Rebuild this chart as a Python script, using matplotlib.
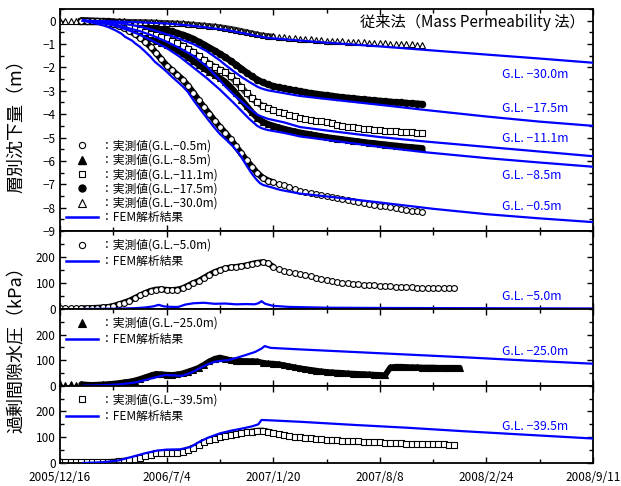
import numpy as np
import matplotlib
matplotlib.use('Agg')
import matplotlib.pyplot as plt
from matplotlib.lines import Line2D
from matplotlib.ticker import MultipleLocator

plt.rcParams['font.family'] = ['Noto Sans CJK JP', 'DejaVu Sans']
plt.rcParams['axes.unicode_minus'] = True

# ---------------- data ----------------
x_ticks = [0, 200, 400, 600, 800, 1000]
x_labels = ['2005/12/16', '2006/7/4', '2007/1/20', '2007/8/8', '2008/2/24', '2008/9/11']

days_s = list(range(40, 690, 10))     # settlement measured (days from 2005/12/16)
days_s30 = list(range(0, 690, 10))

s05 = [0, -0.01, -0.02, -0.03, -0.05, -0.09, -0.15, -0.22, -0.31, -0.43,
       -0.56, -0.72, -0.90, -1.12, -1.38, -1.65, -1.92, -2.12, -2.32, -2.52,
       -2.78, -3.08, -3.40, -3.70, -3.98, -4.28, -4.55, -4.80, -5.08, -5.38,
       -5.68, -5.98, -6.25, -6.52, -6.72, -6.84, -6.92, -6.98, -7.04, -7.12,
       -7.20, -7.27, -7.33, -7.38, -7.43, -7.47, -7.51, -7.55, -7.59, -7.63,
       -7.67, -7.71, -7.75, -7.79, -7.83, -7.87, -7.91, -7.95, -7.99, -8.03,
       -8.06, -8.10, -8.13, -8.16, -8.19]
s85 = [0, -0.01, -0.02, -0.03, -0.05, -0.07, -0.10, -0.15, -0.22, -0.30,
       -0.39, -0.50, -0.62, -0.74, -0.86, -0.95, -1.03, -1.12, -1.25, -1.40,
       -1.56, -1.72, -1.88, -2.04, -2.18, -2.32, -2.46, -2.62, -2.84, -3.10,
       -3.38, -3.65, -3.92, -4.15, -4.32, -4.43, -4.50, -4.57, -4.63, -4.69,
       -4.74, -4.79, -4.83, -4.87, -4.91, -4.95, -4.99, -5.02, -5.05, -5.08,
       -5.11, -5.14, -5.17, -5.20, -5.23, -5.25, -5.28, -5.30, -5.33, -5.35,
       -5.38, -5.40, -5.42, -5.44, -5.46]
s111 = [0, -0.01, -0.01, -0.02, -0.03, -0.05, -0.08, -0.13, -0.19, -0.26,
        -0.33, -0.41, -0.48, -0.55, -0.62, -0.69, -0.76, -0.85, -0.95, -1.07,
        -1.20, -1.35, -1.52, -1.68, -1.84, -1.98, -2.10, -2.20, -2.38, -2.60,
        -2.85, -3.10, -3.32, -3.50, -3.65, -3.74, -3.83, -3.90, -3.97, -4.04,
        -4.10, -4.15, -4.20, -4.24, -4.28, -4.30, -4.32, -4.38, -4.45, -4.50,
        -4.54, -4.57, -4.60, -4.62, -4.64, -4.66, -4.68, -4.70, -4.72, -4.74,
        -4.75, -4.77, -4.78, -4.80, -4.81]
s175 = [0, 0, -0.01, -0.01, -0.02, -0.03, -0.05, -0.07, -0.10, -0.13,
        -0.16, -0.20, -0.24, -0.28, -0.32, -0.36, -0.40, -0.46, -0.53, -0.60,
        -0.68, -0.78, -0.90, -1.02, -1.15, -1.28, -1.42, -1.56, -1.72, -1.88,
        -2.05, -2.22, -2.38, -2.52, -2.64, -2.73, -2.80, -2.85, -2.90, -2.94,
        -2.98, -3.02, -3.06, -3.10, -3.13, -3.16, -3.19, -3.22, -3.25, -3.28,
        -3.30, -3.32, -3.35, -3.37, -3.39, -3.41, -3.43, -3.45, -3.47, -3.49,
        -3.50, -3.52, -3.54, -3.55, -3.57]
s300 = [0, 0, 0, 0, 0, 0, -0.01, -0.01, -0.01, -0.02,
        -0.02, -0.03, -0.03, -0.04, -0.04, -0.05, -0.05, -0.06, -0.07, -0.08,
        -0.09, -0.10, -0.11, -0.12, -0.14, -0.16, -0.18, -0.20, -0.22, -0.24,
        -0.27, -0.30, -0.34, -0.38, -0.43, -0.48, -0.53, -0.58, -0.62, -0.65,
        -0.67, -0.69, -0.71, -0.73, -0.75, -0.77, -0.79, -0.80, -0.82, -0.83,
        -0.85, -0.86, -0.87, -0.88, -0.90, -0.91, -0.92, -0.93, -0.94, -0.95,
        -0.96, -0.97, -0.98, -0.99, -1.00, -1.00, -1.01, -1.02, -1.03]

# FEM settlement
f05_d = [43, 60, 78, 90, 103, 115, 122, 135, 141, 150, 160, 170, 178, 191, 200, 210, 220, 231,
         240, 250, 260, 275, 288, 300, 312, 325, 338, 350, 360, 369, 375, 381, 395, 413, 450,
         500, 600, 700, 800, 900, 1000]
f05_v = [0, -0.08, -0.18, -0.27, -0.40, -0.55, -0.69, -0.85, -0.97, -1.12, -1.33, -1.55, -1.76,
         -2.00, -2.18, -2.40, -2.60, -2.83, -3.05, -3.39, -3.70, -4.15, -4.53, -4.85, -5.10,
         -5.39, -5.75, -6.20, -6.55, -6.81, -6.95, -7.03, -7.12, -7.24, -7.40, -7.52, -7.78,
         -8.05, -8.28, -8.46, -8.62]
f85_d = [43, 70, 100, 125, 150, 175, 200, 225, 250, 275, 300, 310, 325, 340, 355, 370, 378, 390,
         420, 450, 500, 600, 685, 800, 900, 1000]
f85_v = [0, -0.05, -0.20, -0.38, -0.60, -0.88, -1.17, -1.55, -2.00, -2.45, -2.95, -3.17, -3.50,
         -3.85, -4.20, -4.50, -4.60, -4.68, -4.80, -4.95, -5.10, -5.40, -5.63, -5.88, -6.07, -6.25]
f111_d = [43, 70, 100, 125, 150, 175, 200, 225, 250, 275, 300, 310, 325, 340, 355, 370, 378, 390,
          420, 450, 500, 600, 685, 800, 900, 1000]
f111_v = [0, -0.04, -0.15, -0.30, -0.45, -0.65, -0.90, -1.18, -1.50, -1.95, -2.55, -2.81, -3.15,
          -3.45, -3.75, -4.02, -4.10, -4.20, -4.35, -4.55, -4.70, -4.98, -5.17, -5.40, -5.60, -5.80]
f175_d = [43, 70, 100, 125, 150, 175, 200, 225, 250, 275, 300, 310, 325, 340, 355, 370, 378, 390,
          420, 450, 500, 600, 685, 800, 900, 1000]
f175_v = [0, -0.03, -0.08, -0.15, -0.25, -0.40, -0.58, -0.78, -1.00, -1.30, -1.70, -1.89, -2.15,
          -2.40, -2.62, -2.82, -2.90, -2.98, -3.10, -3.22, -3.35, -3.60, -3.82, -4.10, -4.32, -4.50]
f300_d = [43, 100, 150, 200, 250, 310, 350, 380, 391, 450, 500, 600, 685, 800, 900, 1000]
f300_v = [0, -0.03, -0.07, -0.12, -0.22, -0.39, -0.56, -0.70, -0.74, -0.85, -0.94, -1.10, -1.25,
          -1.45, -1.62, -1.80]

# excess pore pressure (kPa)
days_p50 = list(range(0, 750, 10))
p50 = [2, 2, 2, 2, 3, 3, 4, 5, 6, 8,
       12, 18, 25, 32, 42, 52, 62, 70, 75, 76,
       74, 73, 75, 80, 90, 100, 108, 120, 132, 142,
       150, 156, 160, 162, 165, 168, 174, 178, 180, 176,
       163, 153, 147, 142, 138, 134, 130, 126, 121, 116,
       111, 107, 104, 101, 99, 97, 95, 93, 92, 91,
       90, 89, 87, 86, 85, 84, 83, 82, 82, 81,
       81, 80, 80, 80, 80]
fp50_d = [43, 100, 140, 160, 175, 185, 195, 210, 222, 235, 250, 270, 290, 310, 330, 350, 365, 372,
          378, 385, 400, 430, 500, 600, 800, 1000]
fp50_v = [0, 1, 3, 6, 10, 16, 10, 8, 8, 17, 22, 24, 20, 21, 18, 19, 18, 22, 30, 20, 12, 8, 5, 4, 3, 2]

days_p250 = list(range(0, 760, 10))
p250 = [5, 2, 8, 3, 6, 4, 3, 4, 5, 6,
        8, 10, 13, 16, 20, 26, 33, 40, 46, 45,
        43, 42, 44, 48, 55, 62, 70, 82, 95, 105,
        110, 105, 100, 98, 97, 96, 96, 95, 90, 87,
        86, 84, 80, 76, 72, 68, 65, 62, 59, 56,
        54, 52, 51, 50, 48, 47, 46, 45, 44, 43,
        42, 41, 72, 74, 74, 73, 72, 72, 71, 71,
        71, 70, 70, 70, 70, 70]
fp250_d = [43, 80, 110, 140, 160, 180, 197, 215, 228, 245, 260, 275, 291, 305, 316, 330, 347, 366,
           378, 384, 395, 450, 550, 650, 760, 880, 1000]
fp250_v = [0, 2, 5, 12, 22, 33, 42, 40, 38, 50, 66, 82, 94, 98, 100, 108, 119, 132, 145, 155, 148,
           142, 132, 122, 111, 98, 86]

days_p395 = list(range(0, 750, 10))
p395 = [3, 3, 3, 3, 2, 2, 2, 3, 3, 4,
        5, 7, 9, 11, 15, 20, 26, 32, 38, 40,
        40, 39, 40, 44, 52, 60, 70, 80, 88, 95,
        102, 106, 110, 113, 116, 119, 122, 125, 126, 122,
        117, 111, 108, 105, 102, 99, 97, 96, 94, 92,
        90, 89, 88, 87, 86, 85, 84, 83, 82, 81,
        80, 79, 78, 77, 76, 75, 74, 74, 73, 73,
        72, 72, 72, 71, 71]
fp395_d = [43, 80, 110, 137, 160, 182, 200, 225, 245, 263, 280, 300, 320, 340, 360, 372, 378, 390,
           450, 550, 650, 760, 880, 1000]
fp395_v = [0, 3, 10, 25, 38, 48, 52, 53, 62, 84, 100, 115, 125, 133, 142, 150, 167, 166, 160, 148,
           137, 123, 109, 95]

# ---------------- drawing ----------------
BLUE = '#0000FF'
fig = plt.figure(figsize=(6.21, 4.86), dpi=100)
W, H = 621.0, 486.0
L, R = 60 / W, 593 / W
bounds = [(9, 231), (231, 309), (309, 385.7), (385.7, 463)]
axes = []
for top, bot in bounds:
    ax = fig.add_axes([L, 1 - bot / H, R - L, (bot - top) / H])
    axes.append(ax)

for ax in axes:
    ax.set_xlim(0, 1000)
    ax.xaxis.set_major_locator(MultipleLocator(200))
    ax.xaxis.set_minor_locator(MultipleLocator(100))
    ax.tick_params(which='both', direction='in', top=True, right=True, labelsize=8.5,
                   width=1.0)
    ax.tick_params(axis='y', pad=3)
    ax.tick_params(axis='x', pad=6)
    ax.tick_params(which='major', length=4.5)
    ax.tick_params(which='minor', length=3)
    for sp in ax.spines.values():
        sp.set_linewidth(1.3)
    if ax is not axes[-1]:
        ax.tick_params(labelbottom=False)


def meas(ax, d, v, marker, filled, dense_end, ms=4.2, lcol='black', dense_start=40, lw=4.6):
    d = np.asarray(d, float)
    v = np.asarray(v, float)
    m = (d >= dense_start) & (d <= dense_end)
    ax.plot(d[m], v[m], color=lcol, lw=lw, solid_capstyle='round', solid_joinstyle='round', zorder=2)
    ax.plot(d, v, ls='none', marker=marker, ms=ms, mfc='black' if filled else 'white',
            mec='black', mew=0.8, zorder=2.5 if not filled else 2.2)


# top panel
ax = axes[0]
ax.set_ylim(-9, 0.5)
ax.yaxis.set_major_locator(MultipleLocator(1))
ax.yaxis.set_minor_locator(MultipleLocator(0.5))
meas(ax, days_s30, s300, '^', False, 400, ms=4.5, lcol='#303030', lw=3.8)
meas(ax, days_s, s175, 'o', True, 700, ms=4.6)
meas(ax, days_s, s111, 's', False, 400, ms=3.8, lcol='#404040')
meas(ax, days_s, s85, '^', True, 700, ms=5.0)
meas(ax, days_s, s05, 'o', False, 400)
for d, v in [(f05_d, f05_v), (f85_d, f85_v), (f111_d, f111_v), (f175_d, f175_v), (f300_d, f300_v)]:
    ax.plot(d, v, color=BLUE, lw=1.6, zorder=4)

for txt, yv in [('G.L. −30.0m', -2.31), ('G.L. −17.5m', -3.77), ('G.L. −11.1m', -5.06),
                ('G.L. −8.5m', -6.64), ('G.L. −0.5m', -7.97)]:
    ax.text(830, yv, txt, color=BLUE, fontsize=8.8, ha='left', va='center', zorder=5)
ax.text(0.985, 0.941, '従来法（Mass Permeability 法）', transform=ax.transAxes, ha='right',
        va='center', fontsize=11, zorder=6)

h = [Line2D([], [], ls='none', marker='o', mfc='white', mec='black', ms=4.5, mew=0.8),
     Line2D([], [], ls='none', marker='^', mfc='black', mec='black', ms=5.5),
     Line2D([], [], ls='none', marker='s', mfc='white', mec='black', ms=4.2, mew=0.8),
     Line2D([], [], ls='none', marker='o', mfc='black', mec='black', ms=5),
     Line2D([], [], ls='none', marker='^', mfc='white', mec='black', ms=5.5, mew=0.8),
     Line2D([], [], color=BLUE, lw=1.8)]
lab = ['：実測値(G.L.−0.5m)', '：実測値(G.L.−8.5m)', '：実測値(G.L.−11.1m)',
       '：実測値(G.L.−17.5m)', '：実測値(G.L.−30.0m)', '：FEM解析結果']
ax.legend(h, lab, loc='lower left', bbox_to_anchor=(0.012, 0.03), frameon=False, fontsize=8.5,
          handlelength=2.7, handletextpad=0.2, labelspacing=0.12, borderpad=0, borderaxespad=0)

# pressure panels
pdat = [
    (axes[1], days_p50, p50, 'o', False, 400, 4.2, fp50_d, fp50_v, 'G.L. −5.0m', 47, '：実測値(G.L.−5.0m)'),
    (axes[2], days_p250, p250, '^', True, 760, 4.8, fp250_d, fp250_v, 'G.L. −25.0m', 135, '：実測値(G.L.−25.0m)'),
    (axes[3], days_p395, p395, 's', False, 400, 3.8, fp395_d, fp395_v, 'G.L. −39.5m', 142, '：実測値(G.L.−39.5m)'),
]
for ax, d, v, mk, fill, de, ms, fd, fv, gl, gly, lb in pdat:
    ax.set_ylim(0, 300)
    ax.yaxis.set_major_locator(MultipleLocator(100))
    ax.yaxis.set_minor_locator(MultipleLocator(50))
    ax.set_yticks([0, 100, 200])
    meas(ax, d, v, mk, fill, de, ms=ms, lw=4.2)
    ax.plot(fd, fv, color=BLUE, lw=1.6, zorder=4)
    ax.text(830, gly, gl, color=BLUE, fontsize=8.8, ha='left', va='center', zorder=5)
    hm = Line2D([], [], ls='none', marker=mk, mfc='black' if fill else 'white', mec='black',
                ms=5.5 if mk == '^' else 4.5, mew=0.8)
    hl = Line2D([], [], color=BLUE, lw=1.8)
    ax.legend([hm, hl], [lb, '：FEM解析結果'], loc='upper left', bbox_to_anchor=(0.012, 0.90),
              frameon=False, fontsize=8.5, handlelength=2.7, handletextpad=0.2,
              labelspacing=0.28, borderpad=0, borderaxespad=0)

axes[-1].set_xticks(x_ticks)
axes[-1].set_xticklabels(x_labels)

fig.text(17 / W, 1 - 122 / H, '層別沈下量（m）', rotation=90, ha='center', va='center', fontsize=13)
fig.text(17 / W, 1 - 345 / H, '過剰間隙水圧（kPa）', rotation=90, ha='center', va='center', fontsize=13)

fig.savefig('out.png', dpi=100)
